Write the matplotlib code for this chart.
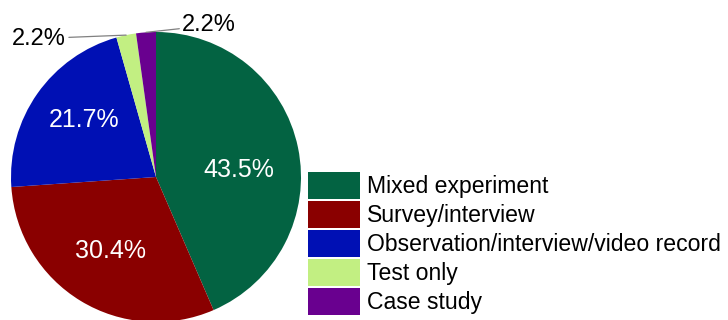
import matplotlib
matplotlib.use("Agg")
import matplotlib.pyplot as plt
import numpy as np

categories = ["Mixed experiment", "Survey/interview",
              "Observation/interview/video record", "Test only", "Case study"]
shares = [43.5, 30.4, 21.7, 2.2, 2.2]
colors = ["#036342", "#8a0000", "#0010b4", "#c2ef82", "#69008f"]

plt.rcParams["font.family"] = ["Liberation Sans", "DejaVu Sans"]

W, H = 728, 320
fig = plt.figure(figsize=(W / 100, H / 100), dpi=100)

# pie centred at (156, 177) px with a 145 px radius
cx, cy, r = 156, 177, 145
ax = fig.add_axes([(cx - r) / W, (H - cy - r) / H, 2 * r / W, 2 * r / H])

wedges, texts, autotexts = ax.pie(
    shares, colors=colors, startangle=90, counterclock=False,
    autopct=lambda p: f"{p:.1f}%", pctdistance=0.6,
    textprops=dict(color="white", fontsize=18),
    wedgeprops=dict(linewidth=0))
ax.set_xlim(-1, 1)
ax.set_ylim(-1, 1)
ax.set_aspect("auto")
ax.axis("off")

# nudge the large-slice labels a little
autotexts[0].set_position((0.572, 0.048))
autotexts[2].set_position((-0.497, 0.393))

# the two thin slices get their labels outside, with leader lines
for t in autotexts[3:]:
    t.set_visible(False)


def edge_point(i):
    start = 90 - 3.6 * sum(shares[:i])
    mid = start - 3.6 * shares[i] / 2
    a = np.deg2rad(mid)
    return np.cos(a), np.sin(a)


ax.annotate(f"{shares[3]:.1f}%", xy=edge_point(3), xytext=(-0.62, 0.955),
            ha="right", va="center", fontsize=17, color="black",
            arrowprops=dict(arrowstyle="-", color="#808080", lw=0.9,
                            shrinkA=0, shrinkB=0),
            annotation_clip=False)
ax.annotate(f"{shares[4]:.1f}%", xy=edge_point(4), xytext=(0.18, 1.045),
            ha="left", va="center", fontsize=17, color="black",
            arrowprops=dict(arrowstyle="-", color="#808080", lw=0.9,
                            shrinkA=0, shrinkB=0),
            annotation_clip=False)

fs = 16.6
fspx = fs * 100 / 72
# legend swatches: 52 x 27 px
hh = (27 / fspx - 0.245) / 0.65
fig.legend(wedges, categories, loc="upper left",
           bbox_to_anchor=(308 / W, (H - 172) / H),
           frameon=False, fontsize=fs, borderpad=0, borderaxespad=0,
           handlelength=52 / fspx, handleheight=hh,
           handletextpad=0.3, labelspacing=2 / fspx)

fig.savefig("out.png", dpi=100)
